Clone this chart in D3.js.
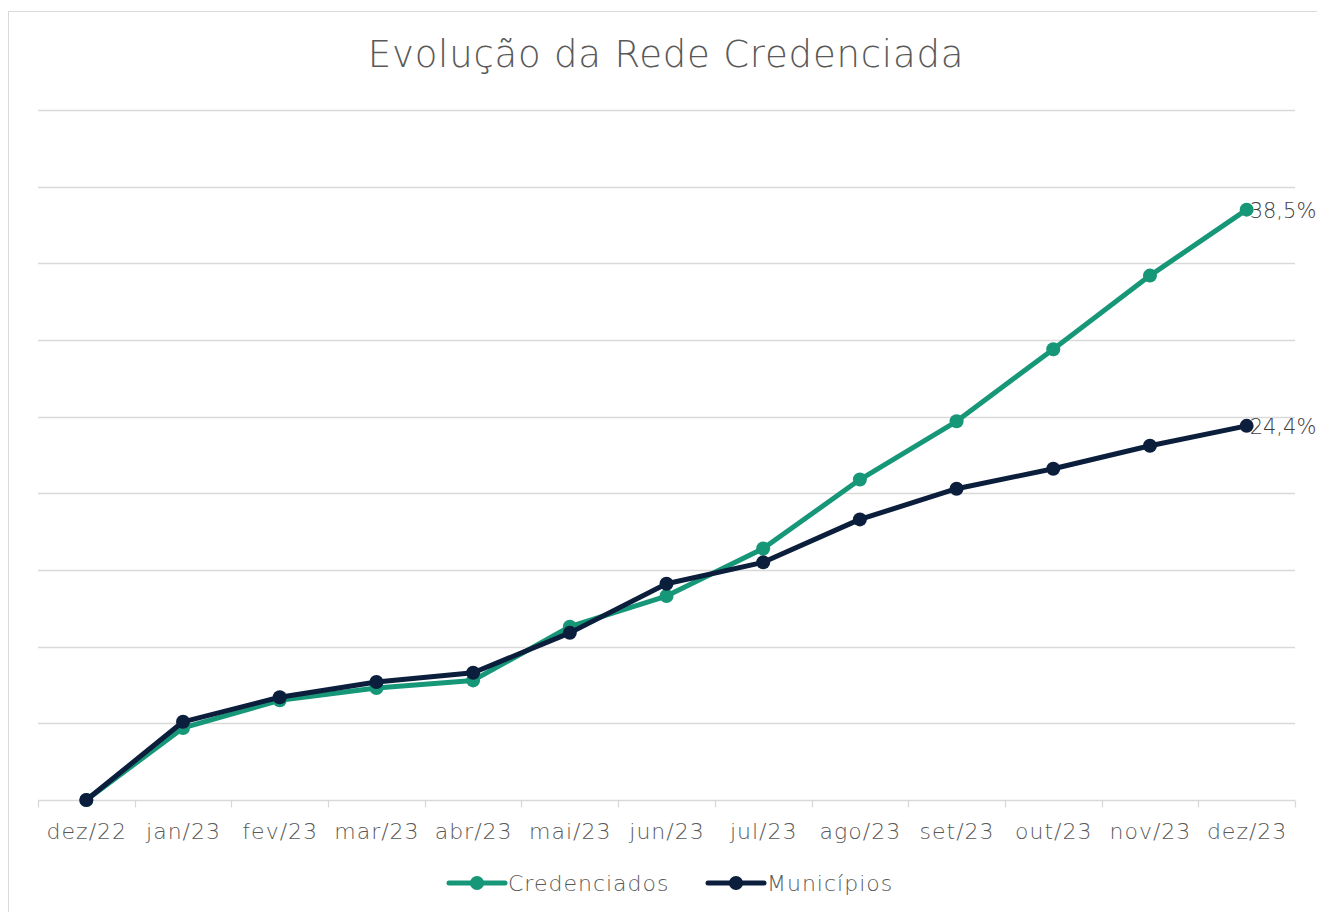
<!DOCTYPE html>
<html>
<head>
<meta charset="utf-8">
<script src="https://cdn.jsdelivr.net/npm/d3@7"></script>
<style>
  body { margin: 0; background: #fff; }
  text { font-family: "Century Gothic", "DejaVu Sans", sans-serif; font-weight: 200; }
</style>
</head>
<body>
<svg id="chart" width="1317" height="912"></svg>
<script>
// categories and series (percent growth since dez/22)
var months = ["dez/22", "jan/23", "fev/23", "mar/23", "abr/23", "mai/23", "jun/23",
              "jul/23", "ago/23", "set/23", "out/23", "nov/23", "dez/23"];
var credenciados = [0, 4.7, 6.5, 7.3, 7.8, 11.3, 13.3, 16.4, 20.9, 24.7, 29.4, 34.2, 38.5];
var municipios   = [0, 5.1, 6.7, 7.7, 8.3, 10.9, 14.1, 15.5, 18.3, 20.3, 21.6, 23.1, 24.4];
var yTicks = [0, 5, 10, 15, 20, 25, 30, 35, 40, 45];

var series = [
    { name: "Credenciados", values: credenciados, color: "#169778" },
    { name: "Municípios",   values: municipios,   color: "#0b1e3c" }
];

var svg = d3.select("#chart");

// chart frame
svg.append("rect")
    .attr("x", 8.5).attr("y", 11.5)
    .attr("width", 1320).attr("height", 920)
    .attr("fill", "none")
    .attr("stroke", "#d9d9d9");

var x = d3.scaleBand().domain(months).range([38, 1295]).padding(0);
var y = d3.scaleLinear().domain([0, 45]).range([800, 110]);

// gridlines
svg.append("g").selectAll("line")
    .data(yTicks.slice(1))
    .enter().append("line")
    .attr("x1", 38).attr("x2", 1295)
    .attr("y1", d => Math.round(y(d)) + 0.5)
    .attr("y2", d => Math.round(y(d)) + 0.5)
    .attr("stroke", "#d9d9d9")
    .attr("stroke-width", 1.3);

// x axis
var xAxis = svg.append("g")
    .attr("transform", "translate(0,800.5)");
xAxis.append("line")
    .attr("x1", 38).attr("x2", 1295)
    .attr("stroke", "#d9d9d9").attr("stroke-width", 1.3);
var edges = months.map(m => x(m)).concat([x.range()[1]]);
xAxis.selectAll(".tick")
    .data(edges)
    .enter().append("line")
    .attr("x1", d => Math.round(d) + 0.5).attr("x2", d => Math.round(d) + 0.5)
    .attr("y1", 0).attr("y2", 7)
    .attr("stroke", "#d9d9d9").attr("stroke-width", 1.3);
xAxis.selectAll("text")
    .data(months)
    .enter().append("text")
    .attr("x", d => x(d) + x.bandwidth() / 2 + 0.5)
    .attr("y", 38)
    .attr("text-anchor", "middle")
    .attr("font-size", "22px")
    .attr("letter-spacing", "1px")
    .attr("fill", "#595959")
    .text(d => d);

// lines and markers
var line = d3.line()
    .x((d, i) => x(months[i]) + x.bandwidth() / 2)
    .y(d => y(d));

series.forEach(function(s) {
    var g = svg.append("g");
    g.append("path")
        .datum(s.values)
        .attr("d", line)
        .attr("fill", "none")
        .attr("stroke", s.color)
        .attr("stroke-width", 5)
        .attr("stroke-linejoin", "round");
    g.selectAll("circle")
        .data(s.values)
        .enter().append("circle")
        .attr("cx", (d, i) => x(months[i]) + x.bandwidth() / 2)
        .attr("cy", d => y(d))
        .attr("r", 7)
        .attr("fill", s.color);
    // label on last point
    var last = s.values.length - 1;
    g.append("text")
        .attr("x", x(months[last]) + x.bandwidth() / 2 + 3)
        .attr("y", y(s.values[last]) + 8)
        .attr("font-size", "21px")
        .attr("fill", "#404040")
        .text(d3.format(".1f")(s.values[last]).replace(".", ",") + "%");
});

// title
svg.append("text")
    .attr("x", 666).attr("y", 67)
    .attr("text-anchor", "middle")
    .attr("font-size", "37px")
    .attr("letter-spacing", "0.8px")
    .attr("fill", "#595959")
    .text("Evolução da Rede Credenciada");

// legend
var legendX = [449, 708];
series.forEach(function(s, i) {
    var lg = svg.append("g").attr("transform", "translate(" + legendX[i] + ",883)");
    lg.append("line")
        .attr("x1", 0).attr("x2", 56)
        .attr("stroke", s.color).attr("stroke-width", 5)
        .attr("stroke-linecap", "round");
    lg.append("circle").attr("cx", 28).attr("r", 7).attr("fill", s.color);
    lg.append("text")
        .attr("x", 59).attr("y", 8)
        .attr("font-size", "22px")
        .attr("letter-spacing", "1px")
        .attr("fill", "#595959")
        .text(s.name);
});
</script>
</body>
</html>
